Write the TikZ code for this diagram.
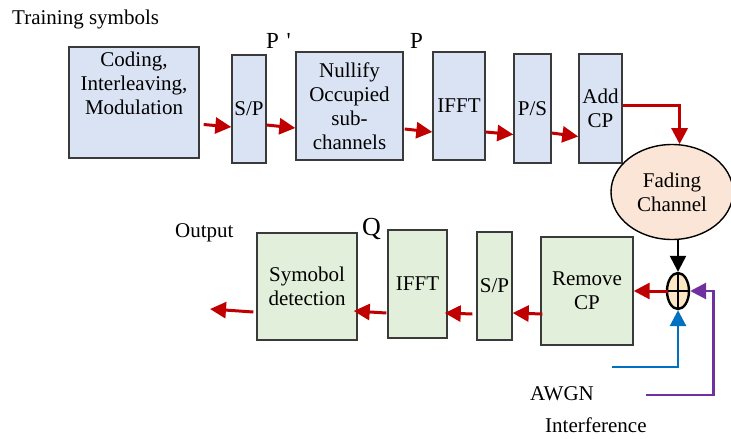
\documentclass[tikz,border=0pt]{standalone}
\usepackage{fontspec}
\setmainfont{Liberation Serif}
\usetikzlibrary{arrows.meta,calc,shapes.geometric}
\definecolor{bxblue}{HTML}{DAE3F3}
\definecolor{bxgreen}{HTML}{E2EFDA}
\definecolor{bxpeach}{HTML}{FBE5D6}
\definecolor{sumfill}{HTML}{FDE6C4}
\definecolor{bord}{HTML}{3A3A3A}
\definecolor{ared}{HTML}{C00000}
\definecolor{ablue}{HTML}{0070C0}
\definecolor{apurple}{HTML}{7030A0}
\begin{document}
\begin{tikzpicture}[x=1pt,y=-1pt,
  every node/.style={font=\fontsize{21}{24}\selectfont},
  tx/.style={inner sep=1pt,align=center},
  bluebox/.style={draw=bord,line width=1.4pt,fill=bxblue,tx},
  greenbox/.style={draw=bord,line width=1.4pt,fill=bxgreen,tx},
  tipshape/.style={-{Triangle[length=16pt,width=16pt]}},
  redarr/.style={draw=ared,line width=3pt,tipshape},
  blackarr/.style={draw=black,line width=2.4pt,tipshape},
  bluearr/.style={draw=ablue,line width=2.8pt,tipshape},
  purparr/.style={draw=apurple,line width=2.8pt,tipshape},
  freetext/.style={inner sep=0pt,anchor=base west},
  bigletter/.style={inner sep=0pt,anchor=base west,font=\fontsize{23}{26}\selectfont}
]
\useasboundingbox (0,0) rectangle (731,439);

% top row
\node[bluebox,minimum width=130,minimum height=111,
  label={[tx,anchor=north,yshift=-4pt]north:{Coding,\\Interleaving,\\Modulation}}] (cod) at (134,102.5) {};
\node[bluebox,minimum width=34,minimum height=108] (sp1) at (249,109) {S/P};
\node[bluebox,minimum width=107,minimum height=108] (nul) at (349.5,106) {Nullify\\Occupied\\sub-\\channels};
\node[bluebox,minimum width=52,minimum height=108] (ifft1) at (459,106) {IFFT};
\node[bluebox,minimum width=37,minimum height=109] (ps) at (532.5,108.5) {P/S};
\node[bluebox,minimum width=43,minimum height=109] (add) at (600.5,108.5) {Add\\CP};
\node[ellipse,draw=black,line width=1.4pt,fill=bxpeach,tx,minimum width=122,minimum height=95] (fad) at (672,192) {Fading\\Channel};

% bottom row
\node[greenbox,minimum width=100,minimum height=107] (sym) at (307,286.5) {Symobol\\detection};
\node[greenbox,minimum width=59,minimum height=108] (ifft2) at (417.5,284) {IFFT};
\node[greenbox,minimum width=35,minimum height=108] (sp2) at (494.5,286) {S/P};
\node[greenbox,minimum width=92,minimum height=108] (rem) at (587,291) {Remove\\CP};
\node[ellipse,draw=black,line width=2.4pt,fill=sumfill,inner sep=0pt,minimum width=22,minimum height=36] (sum) at (678,291) {};
\draw[line width=2.2pt] (sum.north) -- (sum.south) (sum.west) -- (sum.east);

% free texts
\node[freetext] (train) at (12,24) {Training symbols};
\node[bigletter] (pprime) at (266,48) {P\,\,\textquotesingle};
\node[bigletter] (pp) at (410,48) {P};
\node[bigletter,font=\fontsize{26}{28}\selectfont] (qq) at (362,235) {Q};
\node[freetext] (outtxt) at (175,237) {Output};
\node[freetext] (awgn) at (530,400) {AWGN};
\node[freetext] (intf) at (545,432) {Interference};

\coordinate (out) at (210,309);
\coordinate (awgnstart) at (612,367);
\coordinate (intstart) at (646,395);

% top arrows
\draw[redarr] ($(cod.east)+(4,22)$) -- ($(sp1.west)+(0,18)$);
\draw[redarr] ($(sp1.east)+(0,16)$) -- ($(nul.west)+(0,22)$);
\draw[redarr] ($(nul.east)+(1,23)$) -- ($(ifft1.west)+(0,26)$);
\draw[redarr] ($(ifft1.east)+(0,26)$) -- ($(ps.west)+(0,26)$);
\draw[redarr] ($(ps.east)+(0,24.5)$) -- ($(add.west)+(0,28)$);
\draw[redarr] ($(add.east)+(0,-3)$) -| (fad.81.5);

% channel to sum
\draw[blackarr] (sum.north |- fad.south) -- (sum.north);
\draw[bluearr] (awgnstart) -| (sum.south);
\draw[purparr] (intstart) -| ($(sum.east)+(23,0)$) -- (sum.east);

% bottom arrows
\draw[redarr] ($(sum.west)+(2,0)$) -- (rem.east);
\draw[redarr] ($(rem.west)+(2,23)$) -- ($(sp2.east)+(0,27)$);
\draw[redarr] ($(sp2.west)+(-4,28)$) -- ($(ifft2.east)+(-3,29)$);
\draw[redarr] ($(ifft2.west)+(-1,29)$) -- ($(sym.east)+(-4,24.5)$);
\draw[redarr] ($(sym.west)+(-3,25.5)$) -- (out);
\end{tikzpicture}
\end{document}
